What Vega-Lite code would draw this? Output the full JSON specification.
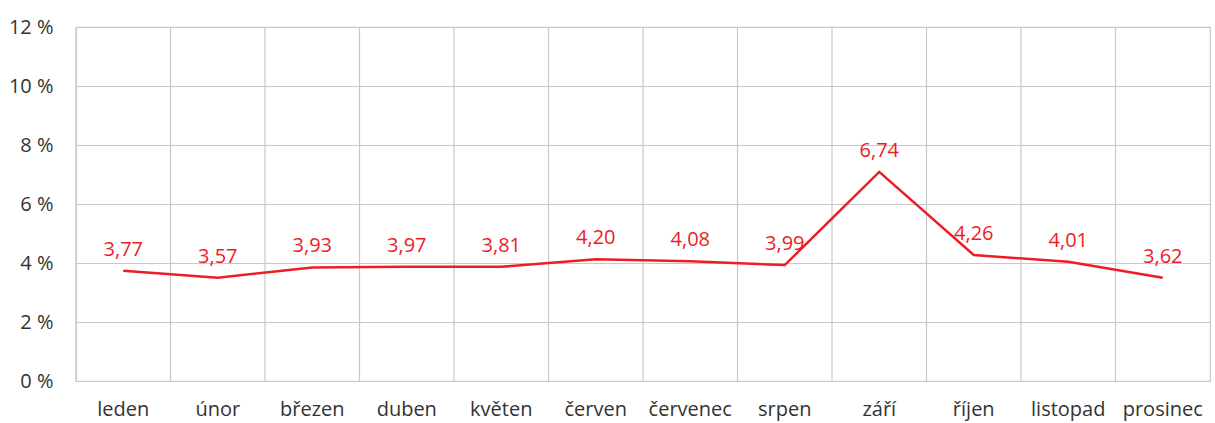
{
  "$schema": "https://vega.github.io/schema/vega-lite/v6.json",
  "autosize": {"type": "none"},
  "padding": {"left": 76, "top": 27, "right": 5, "bottom": 42},
  "width": 1134,
  "height": 354,
  "background": "white",
  "config": {
    "font": "Open Sans",
    "view": {"stroke": "#c8c8c8", "strokeWidth": 1.2},
    "axis": {"labelFont": "Open Sans", "labelColor": "#333333", "labelFontSize": 20, "domain": false, "ticks": false, "tickSize": 0}
  },
  "data": {
    "values": [
      {"mesic": "leden", "hodnota": 3.74, "popisek": "3,77"},
      {"mesic": "únor", "hodnota": 3.50, "popisek": "3,57"},
      {"mesic": "březen", "hodnota": 3.85, "popisek": "3,93"},
      {"mesic": "duben", "hodnota": 3.87, "popisek": "3,97"},
      {"mesic": "květen", "hodnota": 3.87, "popisek": "3,81"},
      {"mesic": "červen", "hodnota": 4.13, "popisek": "4,20"},
      {"mesic": "červenec", "hodnota": 4.06, "popisek": "4,08"},
      {"mesic": "srpen", "hodnota": 3.93, "popisek": "3,99"},
      {"mesic": "září", "hodnota": 7.09, "popisek": "6,74"},
      {"mesic": "říjen", "hodnota": 4.27, "popisek": "4,26"},
      {"mesic": "listopad", "hodnota": 4.04, "popisek": "4,01"},
      {"mesic": "prosinec", "hodnota": 3.50, "popisek": "3,62"}
    ]
  },
  "encoding": {
    "x": {
      "field": "mesic", "type": "nominal", "sort": null,
      "scale": {"paddingInner": 0, "paddingOuter": 0},
      "axis": {"title": null, "labelAngle": 0, "labelPadding": 18, "grid": false}
    }
  },
  "layer": [
    {
      "mark": {"type": "rule", "color": "#c8c8c8", "strokeWidth": 1.2},
      "encoding": {
        "x": {"field": "mesic", "type": "nominal", "sort": null, "bandPosition": 0}
      }
    },
    {
      "mark": {"type": "line", "color": "#ee1c25", "strokeWidth": 2.5},
      "encoding": {
        "y": {
          "field": "hodnota", "type": "quantitative",
          "scale": {"domain": [0, 12], "nice": false},
          "axis": {"title": null, "values": [0, 2, 4, 6, 8, 10, 12], "labelExpr": "datum.value + ' %'", "labelPadding": 23, "grid": true, "gridColor": "#c8c8c8", "gridWidth": 1.2}
        }
      }
    },
    {
      "mark": {"type": "text", "color": "#ee1c25", "fontSize": 20, "font": "Open Sans", "dy": -21},
      "encoding": {
        "y": {"field": "hodnota", "type": "quantitative"},
        "text": {"field": "popisek"}
      }
    }
  ]
}
